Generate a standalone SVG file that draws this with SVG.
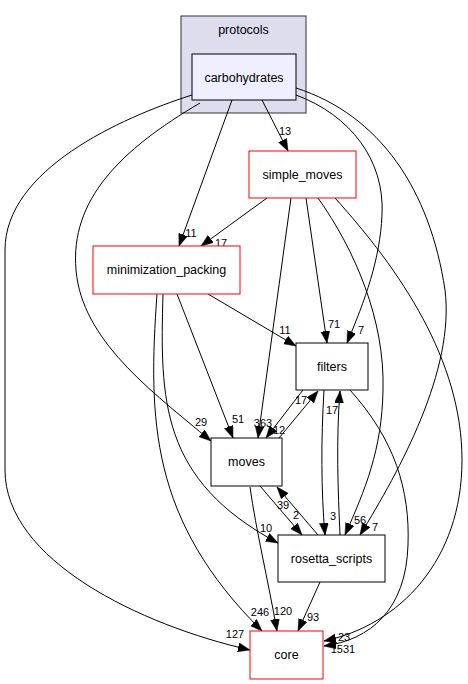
<svg xmlns="http://www.w3.org/2000/svg" width="468" height="684" viewBox="0 0 468 684">
<style>
.e{fill:none;stroke:#000;stroke-width:1;marker-end:url(#ah)}
.n{fill:#fff;stroke:#000;stroke-width:1}
.r{fill:#fff;stroke:#ff0000;stroke-width:1}
.t{font-family:"Liberation Sans",Arial,Helvetica,sans-serif;font-size:12.5px;text-anchor:middle;fill:#000}
.l{font-family:"Liberation Sans",Arial,Helvetica,sans-serif;font-size:11px;text-anchor:middle;fill:#000}
</style>
<defs>
<marker id="ah" markerUnits="userSpaceOnUse" markerWidth="13" markerHeight="10" refX="12" refY="4.5" orient="auto">
<path d="M0,0 L12,4.5 L0,9 z" fill="#000" stroke="#000" stroke-width="0.5"/>
</marker>
</defs>
<rect width="468" height="684" fill="#fff"/>
<g id="cluster_protocols">
<rect x="181" y="16" width="125" height="97" fill="#ddddee" stroke="#333"/>
<text class="t" x="243.5" y="34">protocols</text>
</g>
<g id="edges">
<path class="e" d="M192,95 C120,118 5,170 5,250 L5,470 C5,560 140,625 250,650"/>
<path class="e" d="M200,103 C120,150 70,200 76,270 C82,340 150,390 211,441"/>
<path class="e" d="M262,100 L288,151"/>
<path class="e" d="M232,100 L179,246"/>
<path class="e" d="M296,95 C350,115 385,160 382,215 C380,260 365,300 347,343"/>
<path class="e" d="M296,88 C380,115 430,190 445,290 C455,370 400,470 360,535"/>
<path class="e" d="M267,198 L201,246"/>
<path class="e" d="M291,198 L258,438"/>
<path class="e" d="M306,198 L327,343"/>
<path class="e" d="M318,198 C355,250 385,320 383,390 C382,450 365,490 345,535"/>
<path class="e" d="M335,198 C400,270 462,360 462,460 C462,560 400,625 324,641"/>
<path class="e" d="M350,390 C395,440 410,490 408,545 C406,610 370,640 324,646"/>
<path class="e" d="M208,294 L296,346"/>
<path class="e" d="M177,294 L233,438"/>
<path class="e" d="M163,294 C160,400 160,480 278,543"/>
<path class="e" d="M157,294 C148,420 150,520 262,631"/>
<path class="e" d="M279,438 L318,391"/>
<path class="e" d="M303,390 L266,438"/>
<path class="e" d="M324,390 C321,440 321,490 325,535"/>
<path class="e" d="M340,535 C338,490 336,440 340,391"/>
<path class="e" d="M260,486 L302,535"/>
<path class="e" d="M318,535 L277,487"/>
<path class="e" d="M250,487 C256,530 268,580 277,631"/>
<path class="e" d="M320,582 L298,631"/>
<text class="l" x="235" y="638">127</text>
<text class="l" x="201" y="426">29</text>
<text class="l" x="285" y="135">13</text>
<text class="l" x="191" y="237">11</text>
<text class="l" x="361" y="334">7</text>
<text class="l" x="375" y="531">7</text>
<text class="l" x="221" y="247">17</text>
<text class="l" x="263" y="427">363</text>
<text class="l" x="334" y="328">71</text>
<text class="l" x="360" y="524">56</text>
<text class="l" x="344" y="641">23</text>
<text class="l" x="343" y="653">1531</text>
<text class="l" x="285" y="334">11</text>
<text class="l" x="238" y="423">51</text>
<text class="l" x="266" y="532">10</text>
<text class="l" x="260" y="616">246</text>
<text class="l" x="301" y="404">17</text>
<text class="l" x="279" y="434">12</text>
<text class="l" x="333" y="520">3</text>
<text class="l" x="332" y="414">17</text>
<text class="l" x="296" y="519">2</text>
<text class="l" x="283" y="509">39</text>
<text class="l" x="283" y="615">120</text>
<text class="l" x="313" y="621">93</text>
</g>
<g id="node_carbohydrates">
<rect x="192" y="54" width="104" height="46" fill="#eeeeff" stroke="#000"/>
<text class="t" x="244" y="82">carbohydrates</text>
</g>
<g id="node_simple_moves">
<rect class="r" x="249" y="151" width="107" height="47"/>
<text class="t" x="302.5" y="179">simple_moves</text>
</g>
<g id="node_minimization_packing">
<rect class="r" x="93" y="246" width="147" height="48"/>
<text class="t" x="166.5" y="274">minimization_packing</text>
</g>
<g id="node_filters">
<rect class="n" x="296" y="343" width="72" height="47"/>
<text class="t" x="332" y="371">filters</text>
</g>
<g id="node_moves">
<rect class="n" x="211" y="438" width="71" height="48"/>
<text class="t" x="246.5" y="466">moves</text>
</g>
<g id="node_rosetta_scripts">
<rect class="n" x="278" y="535" width="107" height="47"/>
<text class="t" x="331.5" y="563">rosetta_scripts</text>
</g>
<g id="node_core">
<rect class="r" x="250" y="631" width="73" height="48"/>
<text class="t" x="286.5" y="659">core</text>
</g>
</svg>
